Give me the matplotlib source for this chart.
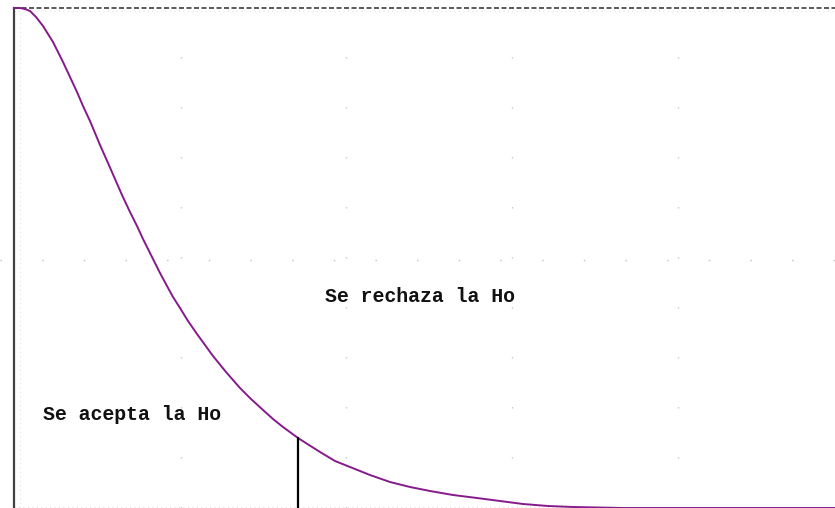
import matplotlib
matplotlib.use("Agg")
import matplotlib.pyplot as plt

# Curve (x in z-like units, y relative density)
curve_x = [0.00, 0.06, 0.11, 0.16, 0.22, 0.29, 0.34, 0.39, 0.44, 0.49, 0.56, 0.63, 0.69,
           0.76, 0.86, 0.94, 1.01, 1.08, 1.16, 1.23, 1.29, 1.39, 1.46, 1.53, 1.59, 1.66,
           1.74, 1.83, 1.91, 1.99, 2.12, 2.26, 2.37, 2.49, 2.59, 2.69, 2.84, 2.95, 3.06,
           3.21, 3.36, 3.56, 3.76, 3.96, 4.16, 4.39, 4.63, 4.86, 5.09, 5.34, 5.59, 6.09, 8.21]
curve_y = [1.000, 1.000, 0.998, 0.994, 0.982, 0.964, 0.948, 0.932, 0.912, 0.892, 0.862, 0.832, 0.804,
           0.774, 0.726, 0.690, 0.658, 0.626, 0.592, 0.564, 0.538, 0.498, 0.470, 0.444, 0.422, 0.400,
           0.374, 0.348, 0.326, 0.304, 0.272, 0.240, 0.218, 0.196, 0.178, 0.162, 0.140, 0.126, 0.112,
           0.094, 0.082, 0.066, 0.052, 0.042, 0.034, 0.026, 0.020, 0.014, 0.008, 0.004, 0.002, 0.000, 0.000]

critical_x = 2.84
critical_y = 0.140

labels = ["Se rechaza la Ho", "Se acepta la Ho"]
label_x = [3.11, 0.29]
label_y = [0.424, 0.186]

grid_x = [1.67, 3.32, 4.98, 6.64]
grid_y = [0.496]

fig = plt.figure(figsize=(8.35, 5.08), dpi=100)
ax = fig.add_axes([0, 0, 1, 1])
ax.set_xlim(-0.14, 8.21)
ax.set_ylim(0, 1.016)
ax.axis("off")

# faint dotted grid
for gx in grid_x:
    ax.axvline(gx, color="#c8c8c8", lw=1.0, linestyle=(0, (1, 35)), zorder=0)
for gy in grid_y:
    ax.axhline(gy, color="#c0c0c0", lw=1.0, linestyle=(0, (1, 29)), zorder=0)
# faint dotted inner frame
ax.plot([0.06, 0.06], [0, 0.994], color="#e2e2e2", lw=0.8, linestyle=(0, (1, 3)), zorder=0)
ax.plot([0, 8.21], [0.002, 0.002], color="#e2e2e2", lw=0.8, linestyle=(0, (1, 3)), zorder=0)
ax.plot([0, 8.21], [0.994, 0.994], color="#e2e2e2", lw=0.8, linestyle=(0, (1, 3)), zorder=0)

# left axis and top dashed border
ax.plot([0, 0], [0, 1.0], color="#404040", lw=1.6, zorder=2)
ax.plot([0, 8.21], [1.0, 1.0], color="#404040", lw=1.2, linestyle=(0, (3, 1.5)), zorder=2)

# curve
ax.plot(curve_x, curve_y, color="#861a8c", lw=1.4, zorder=3,
        solid_capstyle="round", solid_joinstyle="round")

# critical value
ax.plot([critical_x, critical_x], [0, critical_y], color="black", lw=1.6, zorder=4)

for t, x, y in zip(labels, label_x, label_y):
    ax.text(x, y, t, fontsize=14.3, fontweight="bold", family="Liberation Mono",
            ha="left", va="center", color="#111111")

fig.savefig("out.png", dpi=100)
